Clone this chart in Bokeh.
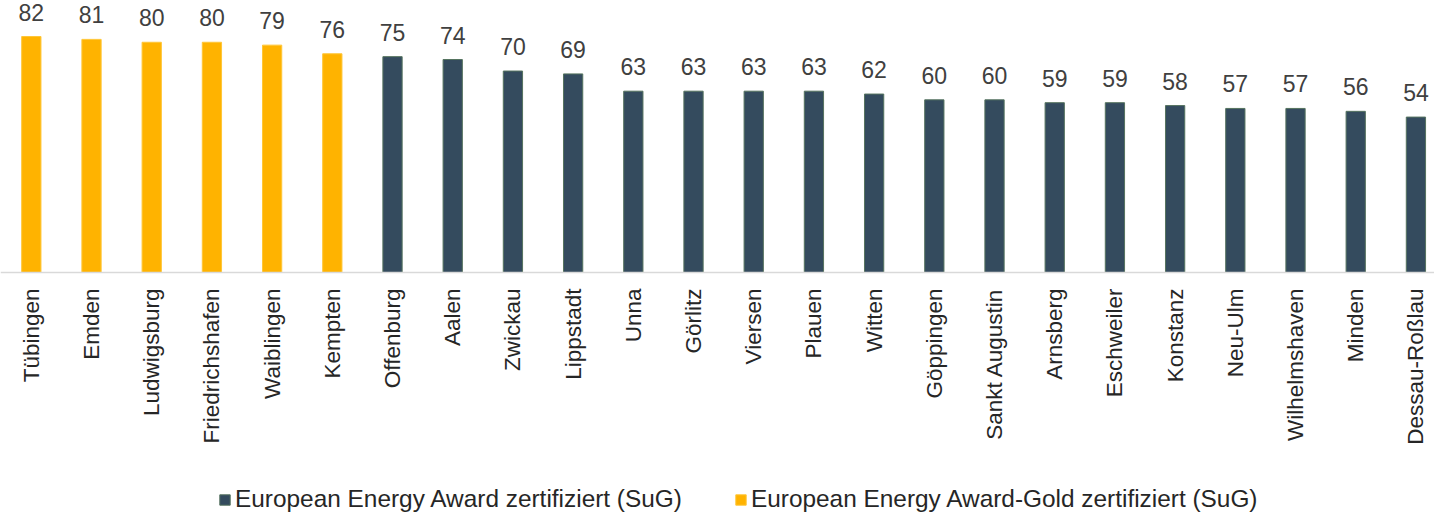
import math
from bokeh.plotting import figure
from bokeh.models import ColumnDataSource, Range1d, LabelSet, Legend, LegendItem, Span
from bokeh.core.properties import value
from bokeh.embed import file_html
from bokeh.resources import INLINE

cities = ["Tübingen", "Emden", "Ludwigsburg", "Friedrichshafen", "Waiblingen", "Kempten",
          "Offenburg", "Aalen", "Zwickau", "Lippstadt", "Unna", "Görlitz", "Viersen", "Plauen",
          "Witten", "Göppingen", "Sankt Augustin", "Arnsberg", "Eschweiler", "Konstanz",
          "Neu-Ulm", "Wilhelmshaven", "Minden", "Dessau-Roßlau"]
values = [82, 81, 80, 80, 79, 76, 75, 74, 70, 69, 63, 63, 63, 63, 62, 60, 60, 59, 59, 58, 57, 57, 56, 54]
gold = [True] * 6 + [False] * 18

series_names = ["European Energy Award zertifiziert (SuG)",
                "European Energy Award-Gold zertifiziert (SuG)"]
DARK = "#344B5E"
GOLD = "#FFB300"

xs = list(range(len(cities)))
src_dark = ColumnDataSource(dict(x=[x for x, g in zip(xs, gold) if not g],
                                 v=[v for v, g in zip(values, gold) if not g]))
src_gold = ColumnDataSource(dict(x=[x for x, g in zip(xs, gold) if g],
                                 v=[v for v, g in zip(values, gold) if g]))
src_all = ColumnDataSource(dict(x=xs, v=values, t=[str(v) for v in values],
                                zero=[0] * len(xs), name=cities))

W, H = 1434, 513
CAT = 60.2          # px per category
PX_PER_UNIT = 236 / 82
BASE = 272          # px from top to the baseline
y_top = BASE / PX_PER_UNIT
y_bot = -(H - BASE) / PX_PER_UNIT

p = figure(width=W, height=H, output_backend="svg", toolbar_location=None,
           x_range=Range1d(-0.512, -0.512 + W / CAT), y_range=Range1d(y_bot, y_top),
           x_axis_location=None, y_axis_location=None, min_border=0)
p.outline_line_color = None
p.grid.visible = False

r_dark = p.vbar(x="x", top="v", bottom=0, width=0.32, source=src_dark, fill_color=DARK,
                line_color="#55735F", line_width=1)
r_gold = p.vbar(x="x", top="v", bottom=0, width=0.32, source=src_gold, fill_color=GOLD,
                line_color="#FFC638", line_width=1)

p.add_layout(Span(location=0, dimension="width", line_color="#D9D9D9", line_width=1.5))

vals = LabelSet(x="x", y="v", text="t", source=src_all, text_align="center", text_baseline="bottom",
                y_offset=16, text_font=value("Liberation Sans"), text_font_size=value("23px"),
                text_color="#404040")
p.add_layout(vals)

cats = LabelSet(x="x", y="zero", text="name", source=src_all, angle=math.pi / 2,
                text_align="right", text_baseline="middle", y_offset=-16,
                text_font=value("Liberation Sans"), text_font_size=value("22.5px"),
                text_color="#262626")
p.add_layout(cats)

legend = Legend(items=[LegendItem(label=series_names[0], renderers=[r_dark]),
                       LegendItem(label=series_names[1], renderers=[r_gold])],
                orientation="horizontal", location=(218, 0),
                label_text_font="Liberation Sans", label_text_font_size="24.4px",
                label_text_color="#262626", glyph_width=13, glyph_height=13,
                label_standoff=4, spacing=52, padding=0, margin=0, label_height=20,
                border_line_color=None, background_fill_alpha=0)
p.add_layout(legend, "center")

open("out.html", "w").write(file_html(p, INLINE))
